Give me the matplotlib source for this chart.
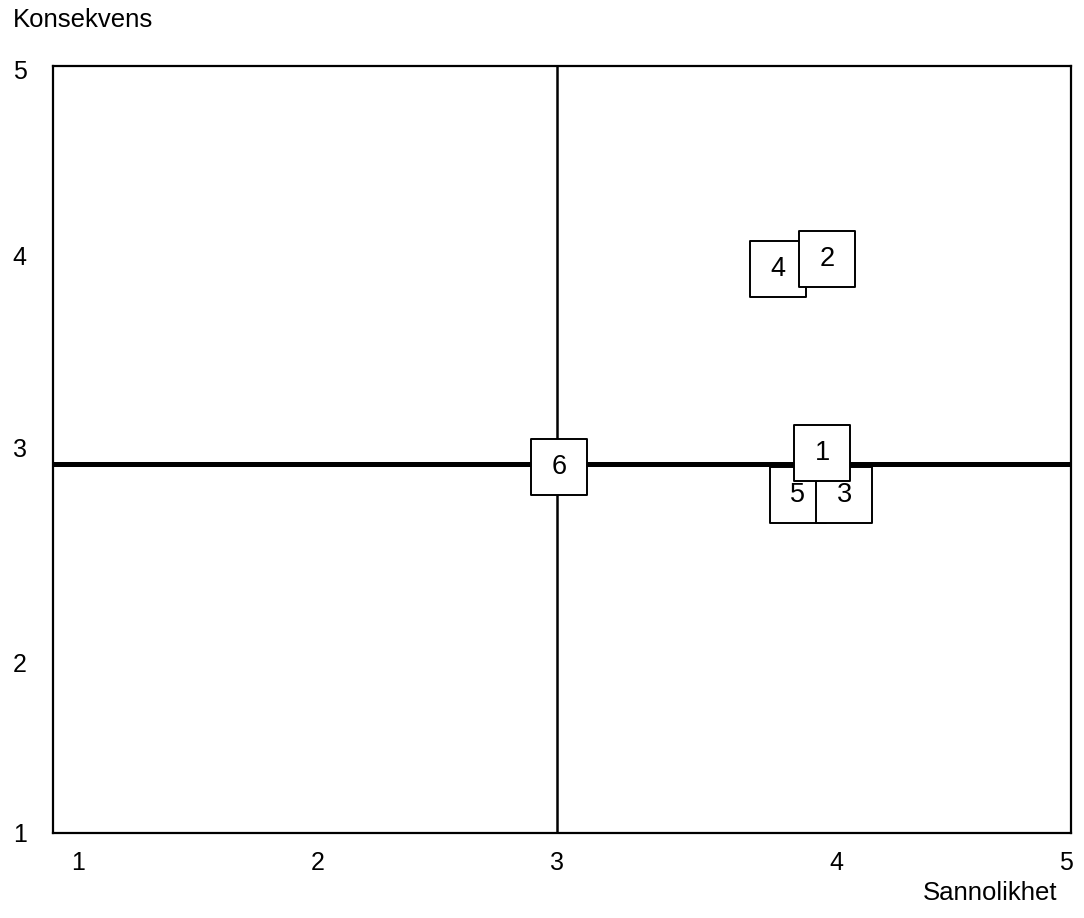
import matplotlib.pyplot as plt

plt.rcParams['font.family'] = ['Liberation Sans', 'DejaVu Sans']

# risk items: id, probability (x), consequence (y), drawn in this order
ids = ["5", "3", "1", "4", "2", "6"]
sannolikhet = [3.926, 4.110, 4.022, 3.849, 4.041, 2.990]
konsekvens = [2.765, 2.765, 2.982, 3.941, 3.996, 2.911]

# axis labels as placed in the original chart
x_tick_pos = [1.10, 2.04, 2.98, 4.08, 4.98]
y_tick_pos = [1.0, 1.89, 3.01, 4.01, 4.98]
tick_labels = ["1", "2", "3", "4", "5"]

# quadrant dividers
x_divider = 2.98
y_divider = 2.924

fig = plt.figure(figsize=(10.84, 9.18), dpi=100)
ax = fig.add_axes([53 / 1084, 85 / 918, 1018 / 1084, 767 / 918])
ax.set_xlim(1, 5)
ax.set_ylim(1, 5)

for s in ax.spines.values():
    s.set_linewidth(1.6)
    s.set_color("black")

ax.set_xticks(x_tick_pos, tick_labels)
ax.set_yticks(y_tick_pos, tick_labels)
ax.tick_params(axis="x", length=0, pad=13, labelsize=18)
ax.tick_params(axis="y", length=0, pad=19, labelsize=18)

ax.axvline(x_divider, color="black", lw=1.8, zorder=1)
ax.axhline(y_divider, color="black", lw=3.6, zorder=1)

for i, (lab, x, y) in enumerate(zip(ids, sannolikhet, konsekvens)):
    z = 3 + 2 * i
    ax.scatter([x], [y], marker="s", s=41 ** 2, facecolor="white",
               edgecolor="black", linewidth=1.4, zorder=z, clip_on=False)
    ax.text(x, y, lab, ha="center", va="center", fontsize=19.5, zorder=z + 1)

fig.text(13 / 1084, 1 - 27 / 918, "Konsekvens", ha="left", va="baseline", fontsize=18.5)
fig.text(1057 / 1084, 1 - 900 / 918, "Sannolikhet", ha="right", va="baseline", fontsize=18.5)

fig.savefig("out.png", dpi=100)
